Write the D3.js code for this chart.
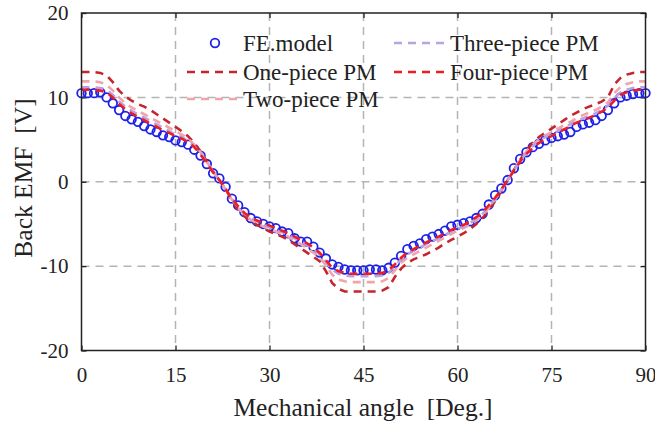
<!DOCTYPE html>
<html>
<head>
<meta charset="utf-8">
<script src="https://cdn.jsdelivr.net/npm/d3@7"></script>
<style>
  html, body { margin: 0; padding: 0; background: #fff; }
  svg { display: block; }
  text { font-family: "Liberation Serif", "Times New Roman", Times, serif; fill: #222; }
</style>
</head>
<body>
<svg id="chart" width="655" height="424"></svg>
<script>
// Mechanical angle sampling (degrees), one sample per degree
const angles = d3.range(0, 91, 1);

// Finite-element reference back EMF [V]
const feModel = [
  10.5, 10.5, 10.5, 10.6, 10.0, 9.3, 8.5, 7.8, 7.4, 7.1,
  6.6, 6.2, 5.9, 5.5, 5.3, 4.9, 4.7, 4.4, 3.8, 3.1,
  2.1, 1.0, 0.4, -0.6, -2.0, -2.8, -3.6, -4.3, -4.7, -5.0,
  -5.3, -5.5, -5.9, -6.1, -6.7, -7.1, -7.1, -7.7, -8.4, -9.1,
  -9.8, -10.1, -10.4, -10.5, -10.5, -10.5, -10.4, -10.4, -10.5, -10.2,
  -9.6, -8.8, -8.0, -7.6, -7.3, -6.8, -6.5, -6.2, -5.8, -5.3,
  -5.1, -4.9, -4.7, -4.3, -3.8, -2.7, -1.6, -0.8, 0.2, 1.6,
  2.7, 3.5, 4.1, 4.5, 4.9, 5.2, 5.4, 5.6, 5.9, 6.5,
  6.8, 7.0, 7.3, 7.8, 8.5, 9.3, 10.0, 10.2, 10.4, 10.5,
  10.5
];

// Analytical back EMF [V] for each magnet segmentation
const onePiece = [
  13.0, 13.0, 13.0, 12.9, 12.6, 11.8, 10.8, 10.1, 9.6, 9.2,
  8.9, 8.5, 8.0, 7.5, 7.0, 6.5, 6.0, 5.4, 4.6, 3.6,
  2.4, 1.2, 0.2, -0.9, -2.2, -3.3, -4.1, -4.7, -5.1, -5.5,
  -5.9, -6.2, -6.5, -6.9, -7.4, -7.9, -8.4, -8.9, -9.4, -10.6,
  -12.0, -12.7, -13.0, -13.0, -13.0, -13.0, -13.0, -13.0, -12.9, -12.5,
  -11.3, -10.3, -9.6, -9.2, -8.9, -8.6, -8.2, -7.8, -7.3, -6.9,
  -6.5, -6.1, -5.6, -5.0, -4.3, -3.4, -2.3, -1.1, 0.2, 1.4,
  2.6, 3.7, 4.6, 5.3, 5.8, 6.3, 6.8, 7.3, 7.8, 8.2,
  8.6, 8.9, 9.2, 9.5, 10.0, 11.5, 12.3, 12.7, 12.9, 13.0,
  13.0
];

const twoPiece = [
  11.9, 11.9, 11.9, 11.8, 11.5, 10.8, 10.0, 9.3, 8.8, 8.4,
  8.0, 7.6, 7.2, 6.8, 6.4, 6.0, 5.6, 5.1, 4.4, 3.5,
  2.4, 1.2, 0.2, -0.9, -2.1, -3.1, -3.9, -4.5, -4.9, -5.3,
  -5.6, -5.9, -6.2, -6.5, -7.0, -7.4, -7.9, -8.4, -8.9, -9.9,
  -11.0, -11.6, -11.8, -11.9, -11.9, -11.9, -11.9, -11.9, -11.8, -11.4,
  -10.5, -9.6, -9.0, -8.6, -8.2, -7.8, -7.4, -7.0, -6.6, -6.2,
  -5.8, -5.5, -5.1, -4.6, -4.0, -3.1, -2.1, -1.0, 0.2, 1.4,
  2.6, 3.6, 4.4, 5.0, 5.5, 5.9, 6.3, 6.7, 7.1, 7.5,
  7.9, 8.2, 8.5, 8.9, 9.4, 10.5, 11.2, 11.6, 11.8, 11.9,
  11.9
];

const threePiece = [
  11.2, 11.2, 11.2, 11.1, 10.9, 10.3, 9.5, 8.9, 8.4, 8.0,
  7.6, 7.2, 6.8, 6.4, 6.0, 5.6, 5.3, 4.8, 4.2, 3.3,
  2.3, 1.2, 0.2, -0.9, -2.0, -3.0, -3.8, -4.3, -4.7, -5.1,
  -5.4, -5.7, -6.0, -6.3, -6.7, -7.1, -7.5, -8.0, -8.6, -9.5,
  -10.4, -10.9, -11.1, -11.2, -11.2, -11.2, -11.2, -11.2, -11.1, -10.8,
  -10.0, -9.2, -8.6, -8.2, -7.8, -7.4, -7.0, -6.7, -6.3, -5.9,
  -5.6, -5.3, -4.9, -4.4, -3.8, -3.0, -2.0, -0.9, 0.2, 1.3,
  2.5, 3.4, 4.2, 4.8, 5.3, 5.6, 6.0, 6.4, 6.8, 7.2,
  7.5, 7.8, 8.1, 8.5, 9.0, 9.9, 10.6, 10.9, 11.1, 11.2,
  11.2
];

const fourPiece = [
  10.9, 10.9, 10.9, 10.8, 10.6, 10.0, 9.2, 8.6, 8.1, 7.7,
  7.3, 6.9, 6.5, 6.1, 5.8, 5.4, 5.1, 4.7, 4.1, 3.2,
  2.2, 1.1, 0.2, -0.9, -2.0, -2.9, -3.7, -4.2, -4.6, -4.9,
  -5.2, -5.5, -5.8, -6.1, -6.5, -6.9, -7.3, -7.8, -8.4, -9.3,
  -10.2, -10.6, -10.8, -10.9, -10.9, -10.9, -10.9, -10.9, -10.8, -10.5,
  -9.8, -9.0, -8.4, -8.0, -7.6, -7.2, -6.8, -6.5, -6.1, -5.7,
  -5.4, -5.1, -4.7, -4.2, -3.6, -2.8, -1.9, -0.9, 0.2, 1.3,
  2.4, 3.3, 4.0, 4.6, 5.1, 5.4, 5.8, 6.2, 6.6, 7.0,
  7.3, 7.6, 7.9, 8.3, 8.8, 9.6, 10.3, 10.6, 10.8, 10.9,
  10.9
];

const xTicks = [0, 15, 30, 45, 60, 75, 90];
const yTicks = [-20, -10, 0, 10, 20];

const seriesNames = ["One-piece PM", "Two-piece PM", "Three-piece PM", "Four-piece PM"];
const seriesColors = ["#c4262e", "#f3a3aa", "#b9a2e2", "#ee1c24"];
const seriesData = [onePiece, twoPiece, threePiece, fourPiece];

const serif = "'Liberation Serif', 'Times New Roman', Times, serif";
const svg = d3.select("#chart");
const plotL = 81.5, plotR = 645.5, plotT = 13, plotB = 350.5;

const x = d3.scaleLinear().domain([0, 90]).range([plotL, plotR]);
const y = d3.scaleLinear().domain([-20, 20]).range([plotB, plotT]);

// Dashed grid
const grid = svg.append("g").attr("stroke", "#b4b4b4").attr("stroke-width", 1.5)
  .attr("stroke-dasharray", "8,6");
grid.selectAll("line.vx").data(xTicks.filter(t => t > 0 && t < 90)).join("line")
  .attr("x1", d => x(d)).attr("x2", d => x(d)).attr("y1", plotT).attr("y2", plotB);
grid.selectAll("line.hy").data(yTicks.filter(t => t > -20 && t < 20)).join("line")
  .attr("x1", plotL).attr("x2", plotR).attr("y1", d => y(d)).attr("y2", d => y(d));

// Axes: ticks point inward
const tickLen = 5;
const plain = d => String(d);
const xAxisB = d3.axisBottom(x).tickValues(xTicks).tickSize(-tickLen).tickFormat(plain).tickPadding(17);
const yAxisL = d3.axisLeft(y).tickValues(yTicks).tickSize(-tickLen).tickFormat(plain).tickPadding(13);
const xAxisT = d3.axisTop(x).tickValues(xTicks).tickSize(-tickLen).tickFormat("");
const yAxisR = d3.axisRight(y).tickValues(yTicks).tickSize(-tickLen).tickFormat("");

function styleAxis(g) {
  g.attr("font-family", serif);
  g.select(".domain").remove();
  g.selectAll(".tick line").attr("stroke", "#222").attr("stroke-width", 1.3);
  g.selectAll(".tick text").attr("font-size", 21).attr("fill", "#2a2a2a")
    .attr("font-family", serif);
}
svg.append("g").attr("transform", `translate(0,${plotB})`).call(xAxisB).call(styleAxis);
svg.append("g").attr("transform", `translate(${plotL},0)`).call(yAxisL).call(styleAxis);
svg.append("g").attr("transform", `translate(0,${plotT})`).call(xAxisT).call(styleAxis);
svg.append("g").attr("transform", `translate(${plotR},0)`).call(yAxisR).call(styleAxis);

// FE model markers
const fePts = angles.map((a, i) => [a, feModel[i]]);
svg.append("g").selectAll("circle").data(fePts).join("circle")
  .attr("cx", d => x(d[0])).attr("cy", d => y(d[1])).attr("r", 4.3)
  .attr("fill", "none").attr("stroke", "#1e22e6").attr("stroke-width", 1.8);

// Analytical curves
const line = d3.line().x(d => x(d[0])).y(d => y(d[1]));
seriesData.forEach((vals, k) => {
  svg.append("path")
    .datum(angles.map((a, i) => [a, vals[i]]))
    .attr("d", line)
    .attr("fill", "none")
    .attr("stroke", seriesColors[k])
    .attr("stroke-width", 2.6)
    .attr("stroke-dasharray", "8,6");
});

// Plot frame
svg.append("rect").attr("x", plotL).attr("y", plotT)
  .attr("width", plotR - plotL).attr("height", plotB - plotT)
  .attr("fill", "none").attr("stroke", "#222").attr("stroke-width", 1.5);

// Axis titles
svg.append("text").attr("x", 363).attr("y", 416)
  .attr("text-anchor", "middle").attr("font-size", 25.5).attr("font-family", serif)
  .style("white-space", "pre").text("Mechanical angle  [Deg.]");
svg.append("text").attr("transform", `translate(32,178) rotate(-90)`)
  .attr("text-anchor", "middle").attr("font-size", 25.5).attr("font-family", serif)
  .style("white-space", "pre").text("Back EMF  [V]");

// Legend (no frame)
const legend = svg.append("g").attr("font-family", serif);
legend.append("circle").attr("cx", 215).attr("cy", 43).attr("r", 4.3)
  .attr("fill", "none").attr("stroke", "#1e22e6").attr("stroke-width", 1.8);
legend.append("text").attr("x", 243).attr("y", 51).attr("font-size", 23).text("FE.model");

const legendPos = [
  { x1: 187, x2: 240, tx: 243, y: 72 },
  { x1: 187, x2: 240, tx: 243, y: 99 },
  { x1: 394, x2: 446, tx: 450, y: 43 },
  { x1: 394, x2: 446, tx: 450, y: 72 }
];
seriesNames.forEach((name, k) => {
  const p = legendPos[k];
  legend.append("line").attr("x1", p.x1).attr("x2", p.x2).attr("y1", p.y).attr("y2", p.y)
    .attr("stroke", seriesColors[k]).attr("stroke-width", 2.6).attr("stroke-dasharray", "8,6");
  legend.append("text").attr("x", p.tx).attr("y", p.y + 8).attr("font-size", 23).text(name);
});
</script>
</body>
</html>
